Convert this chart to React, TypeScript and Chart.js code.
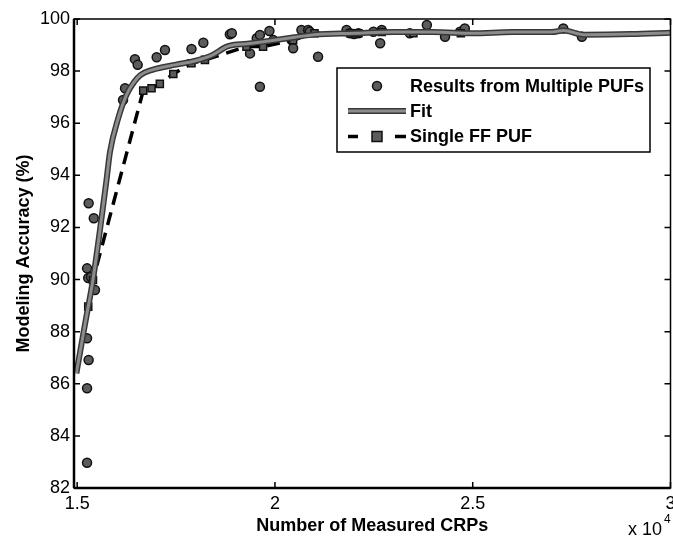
import React, { useEffect, useRef } from 'react';
import { Chart, registerables } from 'chart.js';

Chart.register(...registerables);

// Axis ticks (x in units of 10^4 CRPs)
const xTickValues = [1.5, 2, 2.5, 3];
const yTickValues = [82, 84, 86, 88, 90, 92, 94, 96, 98, 100];

// Results from multiple PUFs (scatter)
const multiX = [
  1.525, 1.525, 1.529, 1.525, 1.528, 1.525, 1.529, 1.542, 1.535, 1.545,
  1.616, 1.621, 1.646, 1.653, 1.701, 1.722, 1.789, 1.819, 1.886, 1.891,
  1.937, 1.954, 1.962, 1.962, 1.986, 1.996, 2.042, 2.046, 2.067, 2.084,
  2.109, 2.181, 2.19, 2.211, 2.249, 2.266, 2.27, 2.341, 2.384, 2.43,
  2.468, 2.48, 2.729, 2.776, 2.088, 2.2,
];
const multiY = [
  82.97, 85.83, 86.91, 87.75, 90.06, 90.43, 92.93, 92.35, 90.1, 89.6,
  96.89, 97.34, 98.46, 98.24, 98.53, 98.81, 98.85, 99.09, 99.41, 99.45,
  98.68, 99.26, 97.4, 99.39, 99.54, 99.19, 99.19, 98.88, 99.58, 99.58,
  98.55, 99.58, 99.45, 99.45, 99.51, 99.07, 99.58, 99.45, 99.77, 99.32,
  99.51, 99.64, 99.64, 99.32, 99.51, 99.42,
];

// Fitted curve
const fitX = [
  1.498, 1.52, 1.54, 1.574, 1.583, 1.604, 1.625, 1.645, 1.66, 1.69,
  1.75, 1.8, 1.84, 1.88, 1.93, 1.98, 2.05, 2.1, 2.2, 2.3,
  2.4, 2.5, 2.6, 2.7, 2.73, 2.78, 2.9, 3.0,
];
const fitY = [
  86.4, 88.3, 90.0, 93.8, 94.9, 96.2, 97.1, 97.6, 97.85, 98.05,
  98.25, 98.4, 98.6, 98.95, 99.05, 99.15, 99.3, 99.4, 99.45, 99.5,
  99.5, 99.45, 99.5, 99.5, 99.56, 99.4, 99.42, 99.47,
];

// Single FF PUF (dashed line with square markers)
const singleX = [
  1.528, 1.54, 1.667, 1.688, 1.709, 1.743, 1.789, 1.823, 1.928, 1.97,
  2.046, 2.1, 2.19, 2.211, 2.27, 2.35, 2.47,
];
const singleY = [
  88.96, 89.98, 97.25, 97.34, 97.51, 97.89, 98.3, 98.43, 98.94, 98.94,
  99.19, 99.45, 99.45, 99.45, 99.5, 99.45, 99.45,
];

const FONT = '"Liberation Sans", Arial, Helvetica, sans-serif';
const MARK_FILL = '#5c5c5c';
const MARK_EDGE = '#111';
const FIT_EDGE = '#383838';
const FIT_CORE = '#8c8c8c';

const toPoints = (xs: number[], ys: number[]) => xs.map((x, i) => ({ x, y: ys[i] }));

// Box frame with inward tick marks on all four sides
const framePlugin = {
  id: 'frame',
  afterDatasetsDraw(chart: any) {
    const { ctx, chartArea: a, scales } = chart;
    const xs = scales.x;
    const ys = scales.y;
    ctx.save();
    ctx.strokeStyle = '#000';
    ctx.lineWidth = 1.5;
    ctx.strokeRect(a.left, a.top, a.right - a.left, a.bottom - a.top);
    ctx.lineWidth = 2.5;
    ctx.beginPath();
    ctx.moveTo(a.left, a.bottom);
    ctx.lineTo(a.right, a.bottom);
    ctx.moveTo(a.left, a.top);
    ctx.lineTo(a.left, a.bottom);
    ctx.stroke();
    ctx.lineWidth = 1.5;
    const len = 6;
    ctx.beginPath();
    xTickValues.forEach((v) => {
      const px = xs.getPixelForValue(v);
      ctx.moveTo(px, a.bottom);
      ctx.lineTo(px, a.bottom - len);
      ctx.moveTo(px, a.top);
      ctx.lineTo(px, a.top + len);
    });
    yTickValues.forEach((v) => {
      const py = ys.getPixelForValue(v);
      ctx.moveTo(a.left, py);
      ctx.lineTo(a.left + len, py);
      ctx.moveTo(a.right, py);
      ctx.lineTo(a.right - len, py);
    });
    ctx.stroke();

    // exponent label for the x axis
    ctx.fillStyle = '#000';
    ctx.textBaseline = 'alphabetic';
    ctx.textAlign = 'left';
    ctx.font = `18px ${FONT}`;
    ctx.fillText('x 10', 628, 535);
    ctx.font = `12px ${FONT}`;
    ctx.fillText('4', 664, 523);
    ctx.restore();
  },
};

const drawCircle = (ctx: CanvasRenderingContext2D, x: number, y: number) => {
  ctx.beginPath();
  ctx.arc(x, y, 4.5, 0, Math.PI * 2);
  ctx.fillStyle = MARK_FILL;
  ctx.fill();
  ctx.lineWidth = 1.5;
  ctx.strokeStyle = MARK_EDGE;
  ctx.stroke();
};

const drawSquare = (ctx: CanvasRenderingContext2D, x: number, y: number) => {
  ctx.fillStyle = MARK_FILL;
  ctx.fillRect(x - 5, y - 5, 10, 10);
  ctx.lineWidth = 1.5;
  ctx.strokeStyle = MARK_EDGE;
  ctx.strokeRect(x - 5, y - 5, 10, 10);
};

// Legend box in the upper right of the plot area
const legendPlugin = {
  id: 'boxLegend',
  afterDraw(chart: any) {
    const { ctx, chartArea: a } = chart;
    const right = a.right - 20.5;
    const left = right - 313;
    const top = a.top + 49;
    const h = 84;
    ctx.save();
    ctx.fillStyle = '#fff';
    ctx.fillRect(left, top, right - left, h);
    ctx.strokeStyle = '#000';
    ctx.lineWidth = 1.5;
    ctx.strokeRect(left, top, right - left, h);

    const sx0 = left + 11;
    const sx1 = left + 69;
    const mid = (sx0 + sx1) / 2;
    const textX = left + 73;
    const rows = [top + 18, top + 43, top + 68.5];

    drawCircle(ctx, mid, rows[0]);

    ctx.lineCap = 'butt';
    ctx.strokeStyle = FIT_EDGE;
    ctx.lineWidth = 6;
    ctx.beginPath();
    ctx.moveTo(sx0, rows[1]);
    ctx.lineTo(sx1, rows[1]);
    ctx.stroke();
    ctx.strokeStyle = FIT_CORE;
    ctx.lineWidth = 3;
    ctx.stroke();

    ctx.strokeStyle = '#000';
    ctx.lineWidth = 3.5;
    ctx.beginPath();
    ctx.moveTo(sx0, rows[2]);
    ctx.lineTo(sx0 + 10, rows[2]);
    ctx.moveTo(sx1 - 11, rows[2]);
    ctx.lineTo(sx1, rows[2]);
    ctx.stroke();
    drawSquare(ctx, mid, rows[2]);

    ctx.fillStyle = '#000';
    ctx.font = `bold 18px ${FONT}`;
    ctx.textBaseline = 'middle';
    ctx.textAlign = 'left';
    ctx.fillText('Results from Multiple PUFs', textX, rows[0] + 1);
    ctx.fillText('Fit', textX, rows[1] + 1);
    ctx.fillText('Single FF PUF', textX, rows[2] + 1);
    ctx.restore();
  },
};

export default function App() {
  const canvasRef = useRef<HTMLCanvasElement | null>(null);

  useEffect(() => {
    const canvas = canvasRef.current;
    if (!canvas) return;
    const chart = new Chart(canvas, {
      type: 'scatter',
      data: {
        datasets: [
          {
            label: 'Fit',
            data: toPoints(fitX, fitY),
            showLine: true,
            borderColor: FIT_CORE,
            borderWidth: 3,
            pointRadius: 0,
            cubicInterpolationMode: 'monotone',
            order: 0,
          },
          {
            label: 'Fit outline',
            data: toPoints(fitX, fitY),
            showLine: true,
            borderColor: FIT_EDGE,
            borderWidth: 6,
            pointRadius: 0,
            cubicInterpolationMode: 'monotone',
            order: 1,
          },
          {
            label: 'Single FF PUF',
            data: toPoints(singleX, singleY),
            showLine: true,
            borderColor: '#000',
            borderWidth: 3.5,
            borderDash: [13, 8],
            pointStyle: 'rect',
            pointRadius: 5,
            pointBackgroundColor: MARK_FILL,
            pointBorderColor: MARK_EDGE,
            pointBorderWidth: 1.5,
            order: 2,
          },
          {
            label: 'Results from Multiple PUFs',
            data: toPoints(multiX, multiY),
            showLine: false,
            pointStyle: 'circle',
            pointRadius: 4.5,
            pointBackgroundColor: MARK_FILL,
            pointBorderColor: MARK_EDGE,
            pointBorderWidth: 1.5,
            order: 3,
          },
        ],
      },
      options: {
        responsive: false,
        animation: false,
        layout: { autoPadding: false, padding: { top: 19, right: 2.5, left: 0, bottom: 0 } },
        plugins: {
          legend: { display: false },
          tooltip: { enabled: false },
        },
        scales: {
          x: {
            type: 'linear',
            min: 1.492,
            max: 3.0,
            afterBuildTicks: (scale: any) => {
              scale.ticks = xTickValues.map((value) => ({ value }));
            },
            afterFit: (scale: any) => {
              scale.height = 53;
              scale.paddingLeft = 0;
              scale.paddingRight = 0;
            },
            grid: { display: false, drawTicks: false },
            border: { display: false },
            ticks: {
              color: '#000',
              font: { family: FONT, size: 18 },
              padding: 5,
              maxRotation: 0,
              autoSkip: false,
              callback: (v: any) => String(v),
            },
            title: {
              display: true,
              text: 'Number of Measured CRPs',
              color: '#000',
              font: { family: FONT, size: 18, weight: 'bold' },
              padding: { top: 0, bottom: 4 },
            },
          },
          y: {
            type: 'linear',
            min: 82,
            max: 100,
            afterBuildTicks: (scale: any) => {
              scale.ticks = yTickValues.map((value) => ({ value }));
            },
            afterFit: (scale: any) => {
              scale.width = 74;
              scale.paddingTop = 0;
              scale.paddingBottom = 0;
            },
            grid: { display: false, drawTicks: false },
            border: { display: false },
            ticks: {
              color: '#000',
              font: { family: FONT, size: 18 },
              padding: 4,
              autoSkip: false,
              callback: (v: any) => String(v),
            },
            title: {
              display: true,
              text: 'Modeling Accuracy (%)',
              color: '#000',
              font: { family: FONT, size: 18, weight: 'bold' },
              padding: { top: 13, bottom: 0 },
            },
          },
        },
      },
      plugins: [framePlugin, legendPlugin],
    });
    return () => chart.destroy();
  }, []);

  return (
    <div style={{ position: 'absolute', left: 0, top: 0, width: 673, height: 541, background: '#fff' }}>
      <canvas ref={canvasRef} width={673} height={541} style={{ display: 'block' }} />
    </div>
  );
}
